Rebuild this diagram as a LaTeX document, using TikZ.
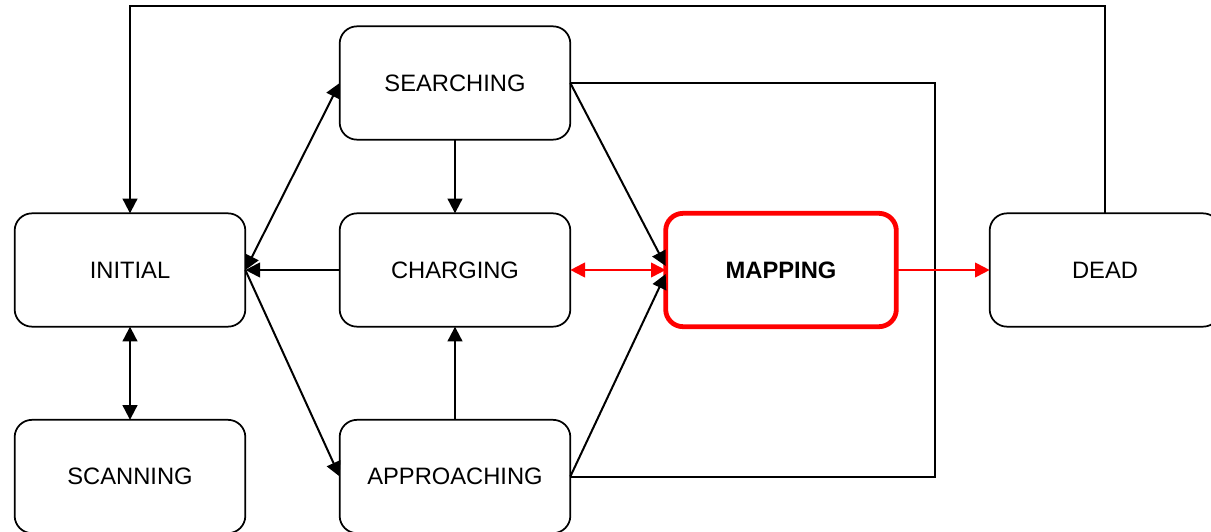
\documentclass[tikz,border=0pt]{standalone}
\usepackage{fontspec}
\setmainfont{Liberation Sans}
\usetikzlibrary{arrows.meta,calc}
\definecolor{redline}{RGB}{255,0,0}
\tikzset{
  state/.style={draw, rounded corners=13pt, line width=1.3pt, minimum width=173pt,
    minimum height=85pt, inner sep=0pt, outer sep=0pt, fill=white,
    font=\fontsize{17.8}{20}\selectfont},
  hot/.style={state, draw=redline, line width=3.6pt, font=\fontsize{17.8}{20}\selectfont\bfseries},
  tip/.tip={Triangle[length=11pt,width=11pt]},
  conn/.style={line width=1.5pt},
  redconn/.style={line width=1.5pt, draw=redline, fill=redline},
}
\begin{document}
\begin{tikzpicture}[x=0.75pt,y=-0.75pt]
\useasboundingbox (0,0) rectangle (1211,532);
\fill[white] (0,0) rectangle (1211,532);
% nodes
\node[state] (searching) at (455,83) {SEARCHING};
\node[state] (initial) at (130,270) {INITIAL};
\node[state] (charging) at (455,270) {CHARGING};
\node[hot] (mapping) at (781,270) {MAPPING};
\node[state] (dead) at (1105,270) {DEAD};
\node[state] (scanning) at (130,476.5) {SCANNING};
\node[state] (approaching) at (455,476.5) {APPROACHING};
% helper coordinates
\coordinate (tr) at (1105,6);
\coordinate (r1) at (935,83);
\coordinate (r2) at (935,476.5);
\coordinate (mapU) at ($(mapping.west)+(0,-4)$);
\coordinate (mapD) at ($(mapping.west)+(0,4)$);
% connectors
\draw[conn,-tip] (dead.north) -- (tr) -| (initial.north);
\draw[conn] (searching.east) -- (r1) -- (r2) -- (approaching.east);
\draw[conn,tip-tip] (initial.east) -- (searching.west);
\draw[conn,-tip] (charging.west) -- (initial.east);
\draw[conn,-tip] (initial.east) -- (approaching.west);
\draw[conn,-tip] (searching.south) -- (charging.north);
\draw[conn,-tip] (approaching.north) -- (charging.south);
\draw[conn,-tip] (searching.east) -- (mapU);
\draw[conn,-tip] (approaching.east) -- (mapD);
\draw[conn,tip-tip] (initial.south) -- (scanning.north);
\draw[redconn,tip-tip] (charging.east) -- (mapping.west);
\draw[redconn,-tip] (mapping.east) -- (dead.west);
\end{tikzpicture}
\end{document}
